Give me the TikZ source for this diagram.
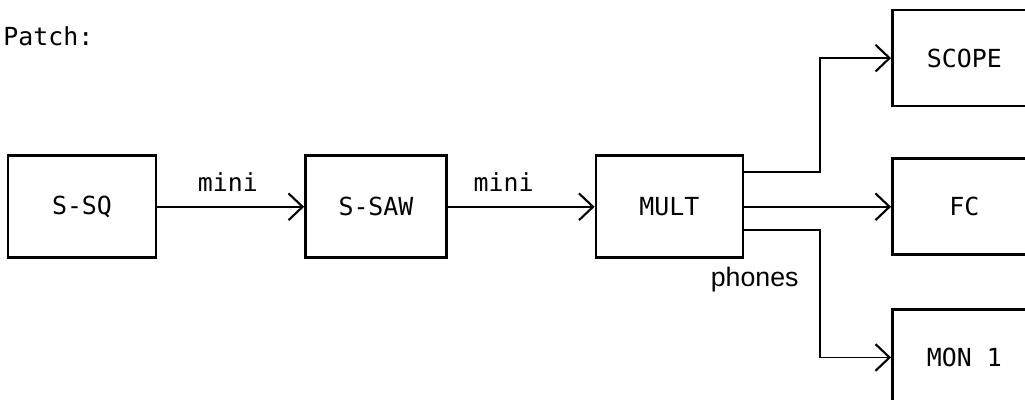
\documentclass[tikz,border=0pt]{standalone}
\usepackage{fontspec}
\newfontfamily\typefont{DejaVu Sans Mono}
\newfontfamily\handfont{Liberation Sans}
\usetikzlibrary{arrows.meta, positioning}

\begin{document}
\begin{tikzpicture}[
  node distance = 1.25cm and 3.67cm,
  blk/.style    = {draw, line width=1.9pt, minimum width=3.65cm,
                   minimum height=2.55cm, font=\typefont\fontsize{17.7}{20}\selectfont},
  outblk/.style = {blk, minimum width=3.6cm, minimum height=2.4cm},
  tag/.style    = {font=\typefont\fontsize{17.7}{20}\selectfont, inner sep=0pt},
  arr/.style    = {-{Straight Barb[length=10pt, width=19pt, line width=1.5pt]}, line width=1.3pt},
]
  \useasboundingbox (0,0) rectangle (25.625,10);
  \node[tag, anchor=base west] (title) at (0.08,8.85) {Patch:};

  \node[blk, minimum width=3.7cm] (ssq)  at (2.05,4.83) {S-SQ};
  \node[blk, minimum width=3.525cm, right=of ssq] (ssaw) {S-SAW};
  \node[blk, minimum width=3.675cm, right=of ssaw] (mult) {MULT};
  \draw[arr] (ssq)  -- node[tag, above=3.5mm, pos=0.48]{mini} (ssaw);
  \draw[arr] (ssaw) -- node[tag, above=3.5mm, pos=0.38]{mini} (mult);

  \node[outblk, right=of mult]  (fc)    {FC};
  \node[outblk, above=of fc]    (scope) {SCOPE};
  \node[outblk, below=1.3cm of fc] (mon) {MON 1};
  \draw[arr] ([yshift=8.7mm]mult.east) -- ++(1.9,0) |- (scope.west);
  \draw[arr] (mult.east) -- (fc.west);
  \draw[arr] ([yshift=-5.8mm]mult.east) -- ++(1.9,0) |- (mon.west);

  \node[font=\handfont\fontsize{19}{21}\selectfont, inner sep=0pt,
        below=2mm of mult.south east, xshift=2.6mm] (phones) {phones};
\end{tikzpicture}
\end{document}
